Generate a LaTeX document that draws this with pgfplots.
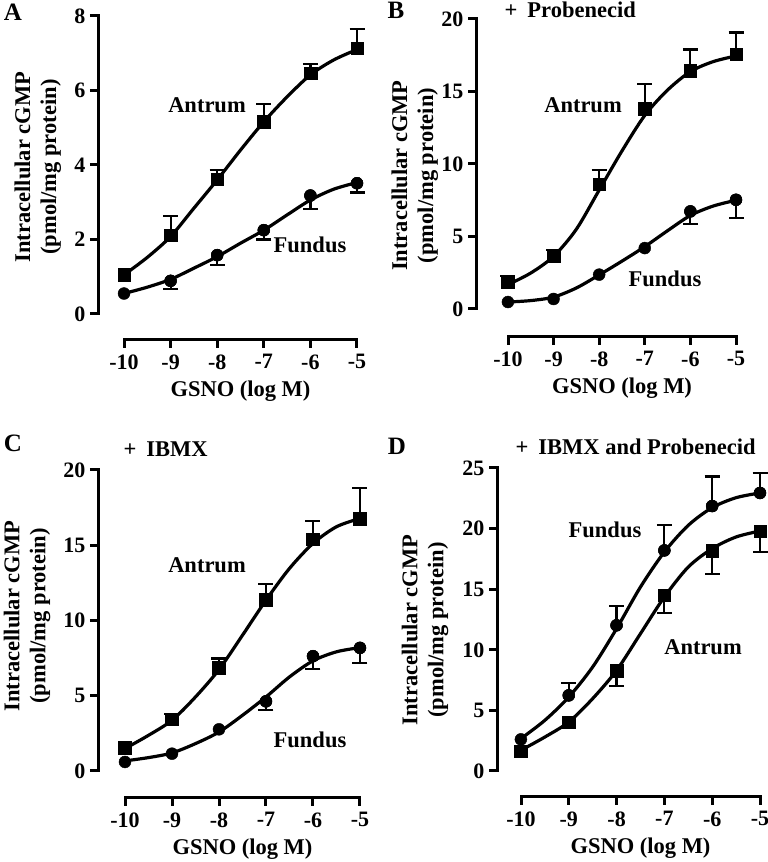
\documentclass[border=0pt]{standalone}
\usepackage{pgfplots}
\pgfplotsset{compat=1.18}
\usepackage{fontspec}
\setmainfont{Liberation Serif}
\newcommand\tickfont{\fontsize{22}{24}\selectfont\bfseries}
\newcommand\labfont{\fontsize{22.5}{26}\selectfont\bfseries}
\newcommand\letfont{\fontsize{25}{30}\selectfont\bfseries}
\pgfplotsset{
  prismy/.style={
    scale only axis, clip=false, anchor=south west,
    axis y line*=left, axis x line=none,
    xmax=-5, ymin=0,
    axis line style={line width=3pt, line cap=rect},
    tick style={line width=3pt, black},
    major tick length=8pt, tick align=outside,
    xtick=\empty,
    yticklabel style={font=\tickfont, xshift=-1pt},
    /pgf/number format/assume math mode=true,
    ylabel={Intracellular cGMP\\(pmol/mg protein)},
    ylabel style={font=\labfont, align=center, anchor=center},
  },
  prismx/.style={
    scale only axis, clip=false, height=1pt, anchor=south west,
    axis x line*=bottom, axis y line=none,
    ymin=0, ymax=1, xmin=-10, xmax=-5,
    axis line style={line width=3pt, line cap=rect},
    tick style={line width=3pt, black},
    major tick length=8pt, tick align=outside,
    xtick={-10,-9,-8,-7,-6,-5},
    xticklabels={-10,-9,-8,-7,-6,-5},
    xticklabel style={font=\tickfont, yshift=-3pt},
    ytick=\empty,
    xlabel={GSNO (log M)},
    xlabel style={font=\labfont, yshift=-5pt},
  },
  curve/.style={black, line width=3.2pt, smooth, mark=none},
  sq/.style={only marks, mark=square*, mark size=6.3pt, black},
  ci/.style={only marks, mark=*, mark size=6pt, black},
  eb/.style={
    error bars/y explicit,
    error bars/error bar style={line width=2.2pt, black},
    error bars/error mark options={black, rotate=90, mark size=7.5pt, line width=2.2pt}},
  ebplus/.style={eb, error bars/y dir=plus},
  ebminus/.style={eb, error bars/y dir=minus},
}
\begin{document}
\begin{tikzpicture}
% ---------------- Panel A ----------------
\begin{axis}[prismy, at={(98pt,548pt)}, width=259pt, height=298pt,
  xmin=-10.558, ymax=8, ytick={0,2,4,6,8},
  ylabel style={at={(axis description cs:-0.232,0.493)}}]
\addplot[curve] coordinates {(-10,1.05) (-9.5,1.52) (-9,2.08) (-8.5,2.84) (-8,3.6) (-7.5,4.4) (-7,5.16) (-6.5,5.83) (-6,6.42) (-5.5,6.82) (-5,7.1)};
\addplot[curve] coordinates {(-10,0.55) (-9.5,0.72) (-9,0.93) (-8.5,1.23) (-8,1.54) (-7.5,1.9) (-7,2.25) (-6.5,2.66) (-6,3.06) (-5.5,3.35) (-5,3.53)};
\addplot[sq, ebplus] coordinates {(-9,2.12) +- (0,0.51) (-8,3.62) +- (0,0.25) (-7,5.16) +- (0,0.48) (-6,6.46) +- (0,0.25) (-5,7.13) +- (0,0.52)};
\addplot[ci, ebminus] coordinates {(-9,0.89) +- (0,0.21) (-8,1.58) +- (0,0.26) (-7,2.25) +- (0,0.25) (-6,3.18) +- (0,0.37) (-5,3.51) +- (0,0.25)};
\addplot[sq] coordinates {(-10,1.05) (-9,2.12) (-8,3.62) (-7,5.16) (-6,6.46) (-5,7.13)};
\addplot[ci] coordinates {(-10,0.55) (-9,0.89) (-8,1.58) (-7,2.25) (-6,3.18) (-5,3.51)};
\end{axis}
\begin{axis}[prismx, at={(124pt,522pt)}, width=233pt]
\end{axis}
% ---------------- Panel B ----------------
\begin{axis}[prismy, at={(476pt,553pt)}, width=260pt, height=290pt,
  xmin=-10.70, ymax=20, ytick={0,5,10,15,20},
  ylabel style={at={(axis description cs:-0.235,0.46)}}]
\addplot[curve] coordinates {(-10,1.68) (-9.5,2.48) (-9,3.63) (-8.5,5.5) (-8,8.2) (-7.5,10.9) (-7,13.35) (-6.5,15.1) (-6,16.37) (-5.5,17.06) (-5,17.45)};
\addplot[curve] coordinates {(-10,0.48) (-9.5,0.58) (-9,0.82) (-8.5,1.45) (-8,2.35) (-7.5,3.3) (-7,4.3) (-6.5,5.4) (-6,6.45) (-5.5,7.1) (-5,7.5)};
\addplot[sq, ebplus] coordinates {(-10,1.9) +- (0,0.4) (-9,3.63) +- (0,0.46) (-8,8.61) +- (0,1.0) (-7,13.8) +- (0,1.7) (-6,16.44) +- (0,1.46) (-5,17.57) +- (0,1.5)};
\addplot[ci, ebminus] coordinates {(-6,6.73) +- (0,0.87) (-5,7.53) +- (0,1.26)};
\addplot[sq] coordinates {(-10,1.9) (-9,3.63) (-8,8.61) (-7,13.8) (-6,16.44) (-5,17.57)};
\addplot[ci] coordinates {(-10,0.48) (-9,0.69) (-8,2.37) (-7,4.2) (-6,6.73) (-5,7.53)};
\end{axis}
\begin{axis}[prismx, at={(508pt,525pt)}, width=228pt]
\end{axis}
% ---------------- Panel C ----------------
\begin{axis}[prismy, at={(98pt,91pt)}, width=262pt, height=301pt,
  xmin=-10.574, ymax=20, ytick={0,5,10,15,20},
  ylabel style={at={(axis description cs:-0.271,0.515)}}]
\addplot[curve] coordinates {(-10,1.49) (-9.5,2.37) (-9,3.37) (-8.5,4.92) (-8,6.74) (-7.5,9.02) (-7,11.35) (-6.5,13.46) (-6,15.12) (-5.5,16.23) (-5,16.78)};
\addplot[curve] coordinates {(-10,0.67) (-9.5,0.89) (-9,1.2) (-8.5,1.82) (-8,2.59) (-7.5,3.7) (-7,4.92) (-6.5,6.25) (-6,7.32) (-5.5,7.92) (-5,8.2)};
\addplot[sq, ebplus] coordinates {(-9,3.44) +- (0,0.37) (-8,6.85) +- (0,0.62) (-7,11.4) +- (0,1.02) (-6,15.41) +- (0,1.2) (-5,16.76) +- (0,2.06)};
\addplot[ci, ebminus] coordinates {(-7,4.63) +- (0,0.59) (-6,7.63) +- (0,0.87) (-5,8.18) +- (0,1.0)};
\addplot[sq] coordinates {(-10,1.53) (-9,3.44) (-8,6.85) (-7,11.4) (-6,15.41) (-5,16.76)};
\addplot[ci] coordinates {(-10,0.6) (-9,1.15) (-8,2.77) (-7,4.63) (-6,7.63) (-5,8.18)};
\end{axis}
\begin{axis}[prismx, at={(125pt,64pt)}, width=235pt]
\end{axis}
% ---------------- Panel D ----------------
\begin{axis}[prismy, at={(497pt,91pt)}, width=263pt, height=303pt,
  xmin=-10.50, ymax=25, ytick={0,5,10,15,20,25},
  ylabel style={at={(axis description cs:-0.274,0.465)}}]
\addplot[curve] coordinates {(-10,2.67) (-9.5,4.18) (-9,6.1) (-8.5,8.58) (-8,11.74) (-7.5,15.18) (-7,18.07) (-6.5,20.27) (-6,21.73) (-5.5,22.55) (-5,22.94)};
\addplot[curve] coordinates {(-10,1.71) (-9.5,2.8) (-9,4.04) (-8.5,5.97) (-8,8.3) (-7.5,11.33) (-7,14.36) (-6.5,16.83) (-6,18.35) (-5.5,19.31) (-5,19.8)};
\addplot[ci, ebplus] coordinates {(-9,6.24) +- (0,1.02) (-8,12.02) +- (0,1.57) (-7,18.2) +- (0,2.1) (-6,21.86) +- (0,2.44) (-5,22.94) +- (0,1.66)};
\addplot[sq, ebminus] coordinates {(-8,8.3) +- (0,1.29) (-7,14.49) +- (0,1.43) (-6,18.2) +- (0,1.97) (-5,19.77) +- (0,1.7)};
\addplot[ci] coordinates {(-10,2.61) (-9,6.24) (-8,12.02) (-7,18.2) (-6,21.86) (-5,22.94)};
\addplot[sq] coordinates {(-10,1.62) (-9,4.04) (-8,8.3) (-7,14.49) (-6,18.2) (-5,19.77)};
\end{axis}
\begin{axis}[prismx, at={(521pt,65pt)}, width=239pt]
\end{axis}
% ---------------- Text ----------------
\node[font=\letfont, anchor=base] at (13pt,841pt) {A};
\node[font=\letfont, anchor=base] at (396pt,843pt) {B};
\node[font=\letfont, anchor=base] at (13pt,410pt) {C};
\node[font=\letfont, anchor=base] at (397pt,407pt) {D};
\node[font=\labfont, anchor=base] at (207pt,749pt) {Antrum};
\node[font=\labfont, anchor=base] at (310pt,609pt) {Fundus};
\node[font=\labfont, anchor=base west] at (501pt,844pt) {+\hspace{0.45em}Probenecid};
\node[font=\labfont, anchor=base] at (583pt,749pt) {Antrum};
\node[font=\labfont, anchor=base] at (665pt,575pt) {Fundus};
\node[font=\labfont, anchor=base west] at (120pt,405pt) {+\hspace{0.45em}IBMX};
\node[font=\labfont, anchor=base] at (207pt,289pt) {Antrum};
\node[font=\labfont, anchor=base] at (310pt,114pt) {Fundus};
\node[font=\labfont, anchor=base west] at (512pt,407pt) {+\hspace{0.45em}IBMX and Probenecid};
\node[font=\labfont, anchor=base] at (605pt,324pt) {Fundus};
\node[font=\labfont, anchor=base] at (703pt,207pt) {Antrum};
\pgfresetboundingbox
\useasboundingbox (0pt,0pt) rectangle (768pt,862pt);
\end{tikzpicture}
\end{document}
